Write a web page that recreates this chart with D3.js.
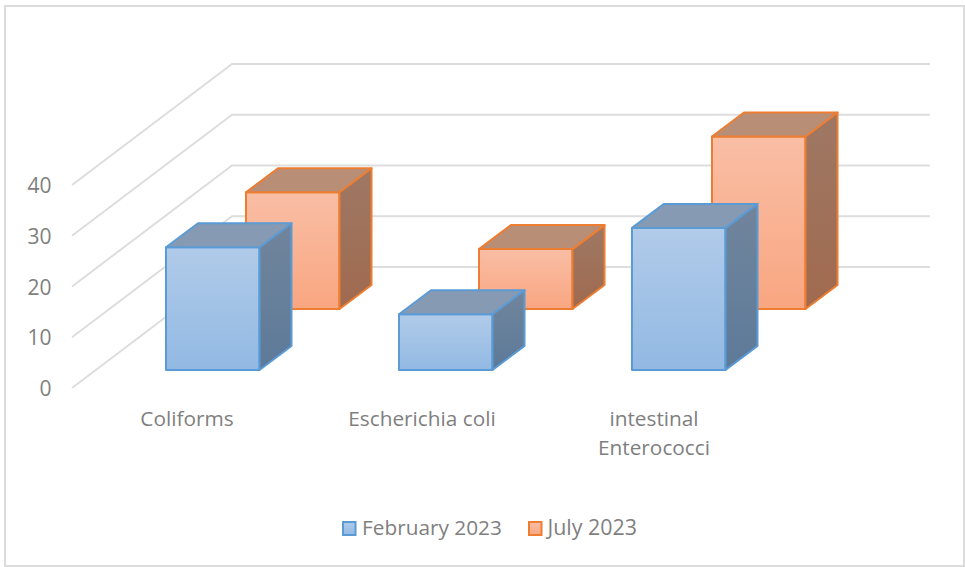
<!DOCTYPE html>
<html><head><meta charset="utf-8">
<script src="https://cdn.jsdelivr.net/npm/d3@7"></script>
<style>html,body{margin:0;padding:0;background:#fff}svg{display:block}text{font-family:"Open Sans",sans-serif;fill:#7f7f7f}</style>
</head><body><svg id="c" width="965" height="567"></svg>
<script>
const categories = ["Coliforms", "Escherichia coli", "intestinal\nEnterococci"];
const seriesNames = ["February 2023", "July 2023"];
const february = [24.2, 11, 28];
const july = [23, 11.8, 34];
const tickValues = [0, 10, 20, 30, 40];

const svg = d3.select("#c");
const defs = svg.append("defs");
const palette = [
  {stroke:"#5b9bd5", top:"#b1cbe9", bottom:"#92b9e3", roof:"#869bb3", side1:"#71859c", side2:"#5d7a99"},
  {stroke:"#ed7d31", top:"#f9bea5", bottom:"#f9a681", roof:"#b98e77", side1:"#9e7864", side2:"#a06a4f"}
];
palette.forEach((p,i)=>{
  const g = defs.append("linearGradient").attr("id","f"+i).attr("x1",0).attr("x2",0).attr("y1",0).attr("y2",1);
  g.append("stop").attr("offset",0).attr("stop-color",p.top);
  g.append("stop").attr("offset",1).attr("stop-color",p.bottom);
  const s = defs.append("linearGradient").attr("id","s"+i).attr("x1",0).attr("x2",0).attr("y1",0).attr("y2",1);
  s.append("stop").attr("offset",0).attr("stop-color",p.side1);
  s.append("stop").attr("offset",1).attr("stop-color",p.side2);
});

svg.append("rect").attr("x",5).attr("y",6).attr("width",959).attr("height",560)
  .attr("fill","#fff").attr("stroke","#dcdcdc").attr("stroke-width",2);

// Scales: value height, category position, depth along the floor
const h = d3.scaleLinear().domain([0,40]).range([0,-203]);
const x = d3.scalePoint().domain(categories).range([166,632]);
const depthX = d3.scaleLinear().domain([0,1]).range([0,80]);
const depthY = d3.scaleLinear().domain([0,1]).range([370,309]);
const wallFront = {x:72,y:388}, wallBack = {x:232,y:267}, wallRight = 930;
const barW = 93.5, capDx = 32, capDy = -24;

// gridlines
const grid = svg.append("g").attr("fill","none").attr("stroke","#dddddd").attr("stroke-width",2);
tickValues.forEach(t=>{
  const d = d3.path();
  d.moveTo(wallFront.x, wallFront.y + h(t));
  d.lineTo(wallBack.x, wallBack.y + h(t));
  d.lineTo(wallRight, wallBack.y + h(t));
  grid.append("path").attr("d",d.toString());
});

// tick labels
svg.append("g").selectAll("text").data(tickValues).join("text")
  .attr("x",51.5).attr("y",t=>wallFront.y + h(t) + 8).attr("text-anchor","end")
  .attr("font-size",21).text(d=>d);

function bar(g, xl, yb, v, i){
  const yt = yb + h(v), xr = xl + barW;
  const poly = pts => pts.map(p=>p.join(",")).join(" ");
  const sw = 2;
  g.append("polygon").attr("points",poly([[xl,yb],[xr,yb],[xr,yt],[xl,yt]]))
    .attr("fill",`url(#f${i})`).attr("stroke",palette[i].stroke).attr("stroke-width",sw).attr("stroke-linejoin","round");
  g.append("polygon").attr("points",poly([[xr,yb],[xr+capDx,yb+capDy],[xr+capDx,yt+capDy],[xr,yt]]))
    .attr("fill",`url(#s${i})`).attr("stroke",palette[i].stroke).attr("stroke-width",sw).attr("stroke-linejoin","round");
  g.append("polygon").attr("points",poly([[xl,yt],[xr,yt],[xr+capDx,yt+capDy],[xl+capDx,yt+capDy]]))
    .attr("fill",palette[i].roof).attr("stroke",palette[i].stroke).attr("stroke-width",sw).attr("stroke-linejoin","round");
}
const marks = svg.append("g");
[july, february].forEach((vals)=>{
  const i = vals===february?0:1;
  vals.forEach((v,k)=> bar(marks.append("g"), x(categories[k])+depthX(i), depthY(i), v, i));
});

// category labels
const labelX = [187, 422, 654];
const cat = svg.append("g");
categories.forEach((c,k)=>{
  c.split("\n").forEach((l,j)=>{
    cat.append("text").attr("x",labelX[k]).attr("y",426+j*29).attr("text-anchor","middle").attr("font-size",20.8).text(l);
  });
});

// legend
const legendX = [343, 529], legendTextX=[362,547.5];
const lg = svg.append("g");
seriesNames.forEach((s,i)=>{
  lg.append("rect").attr("x",legendX[i]).attr("y",522).attr("width",12.5).attr("height",13)
    .attr("fill",`url(#f${i})`).attr("stroke",palette[i].stroke).attr("stroke-width",2);
  lg.append("text").attr("x",legendTextX[i]).attr("y",535).attr("font-size",i===0?20.8:21.4).text(s);
});
</script></body></html>
